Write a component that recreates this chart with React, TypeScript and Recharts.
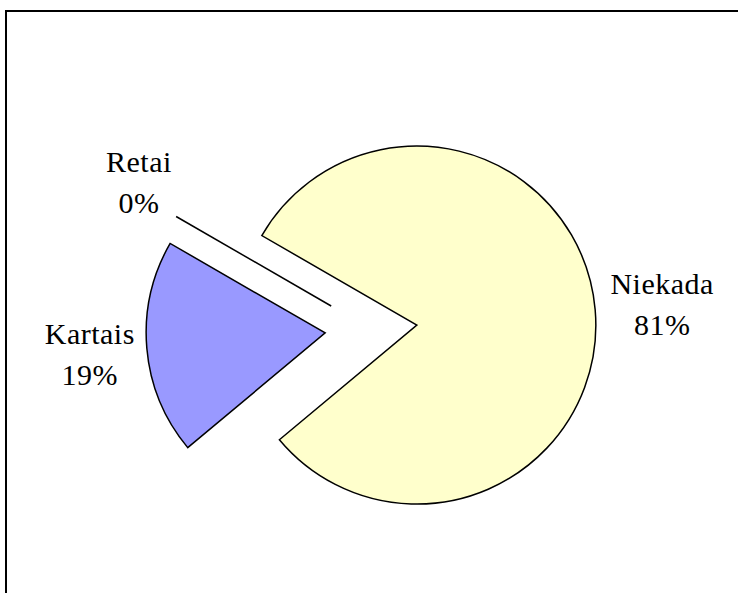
import React from 'react';
import { PieChart, Pie, Sector, Cell } from 'recharts';

// slices, in drawing order (counter-clockwise from 150deg)
const categories = ['Kartais', 'Niekada', 'Retai'];
const values = [19.4, 80.6, 0];
const colors = ['#9999FF', '#FFFFCC', '#FFFFFF'];

const data = categories.map((name, i) => ({ name, value: values[i] }));

const RAD = Math.PI / 180;
const EXPLODE = 46;
const FONT = '"Liberation Serif", "Times New Roman", serif';

const shift = (x: number, y: number, angle: number, d: number) => [
  x + d * Math.cos(-angle * RAD),
  y + d * Math.sin(-angle * RAD),
];

const renderSector = (props: any) => {
  const { cx, cy, midAngle, startAngle, endAngle, outerRadius } = props;
  const [x, y] = shift(cx, cy, midAngle, EXPLODE);
  // empty slice: Excel still draws its edge as a single line
  if (Math.abs(endAngle - startAngle) < 0.01) {
    const [x2, y2] = shift(x, y, startAngle, outerRadius);
    return <line x1={x} y1={y} x2={x2} y2={y2} stroke="#000" strokeWidth={1.5} />;
  }
  return <Sector {...props} cx={x} cy={y} />;
};

const renderLabel = (props: any) => {
  const { cx, cy, midAngle, outerRadius, percent, name } = props;
  const [ex, ey] = shift(cx, cy, midAngle, EXPLODE);
  const [ax, ay] = shift(ex, ey, midAngle, outerRadius + 15);
  const cos = Math.cos(-midAngle * RAD);
  const sin = Math.sin(-midAngle * RAD);
  const w = name.length * 13.5;
  const lx = ax + (cos * w) / 2 + 5;
  const ly = ay + sin * 55;
  return (
    <text x={lx} y={ly - 10} textAnchor="middle" fontFamily={FONT} fontSize={30} fill="#000" letterSpacing={0.5}>
      <tspan x={lx}>{name}</tspan>
      <tspan x={lx} dy={41}>{`${Math.round(percent * 100)}%`}</tspan>
    </text>
  );
};

export default function App() {
  return (
    <div style={{ position: 'fixed', left: 0, top: 0, width: 738, height: 593, background: '#fff' }}>
      {/* chart frame: only the top and left edges fall inside the picture */}
      <svg width={738} height={593} style={{ position: 'absolute', left: 0, top: 0 }}>
        <polyline points="6,593 6,11 738,11" fill="none" stroke="#000" strokeWidth={2} />
      </svg>
      <div style={{ position: 'absolute', left: 0, top: 0 }}>
        <PieChart width={720} height={593} margin={{ top: 0, right: 0, bottom: 0, left: 0 }}>
          <Pie
            data={data}
            dataKey="value"
            nameKey="name"
            cx={371}
            cy={329}
            outerRadius={179}
            startAngle={150}
            endAngle={510}
            stroke="#000"
            strokeWidth={1.5}
            shape={renderSector}
            label={renderLabel}
            labelLine={false}
            isAnimationActive={false}
          >
            {data.map((d, i) => (
              <Cell key={d.name} fill={colors[i]} />
            ))}
          </Pie>
        </PieChart>
      </div>
    </div>
  );
}
